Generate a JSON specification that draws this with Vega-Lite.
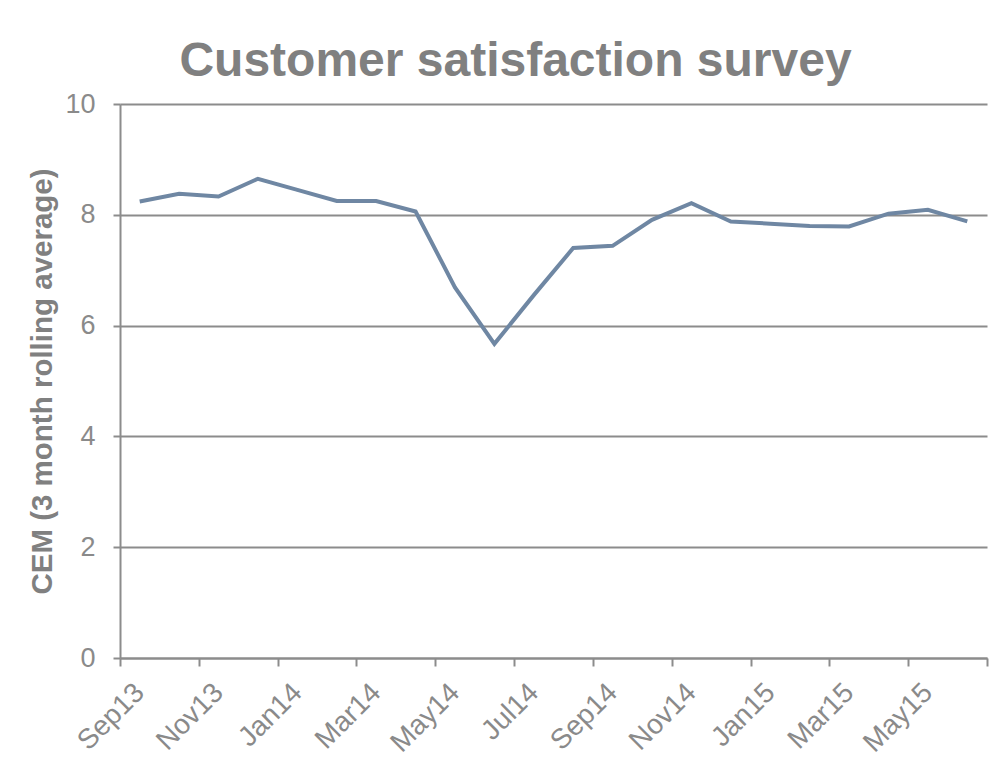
{
  "$schema": "https://vega.github.io/schema/vega-lite/v6.json",
  "width": 867,
  "height": 554,
  "autosize": {"type": "none"},
  "padding": {"left": 120, "top": 104, "right": 16, "bottom": 111},
  "background": "white",
  "config": {
    "view": {"stroke": null},
    "font": "Liberation Sans"
  },
  "title": {
    "text": "Customer satisfaction survey",
    "font": "Liberation Sans",
    "fontSize": 48,
    "fontWeight": "bold",
    "color": "#808080",
    "frame": "group",
    "anchor": "middle",
    "dx": -38,
    "dy": 45,
    "baseline": "alphabetic",
    "offset": 11
  },
  "data": {
    "values": [
      {"month": "Sep13", "cem": 8.24},
      {"month": "Oct13", "cem": 8.38},
      {"month": "Nov13", "cem": 8.33},
      {"month": "Dec13", "cem": 8.65},
      {"month": "Jan14", "cem": 8.45},
      {"month": "Feb14", "cem": 8.25},
      {"month": "Mar14", "cem": 8.25},
      {"month": "Apr14", "cem": 8.06},
      {"month": "May14", "cem": 6.69},
      {"month": "Jun14", "cem": 5.67},
      {"month": "Jul14", "cem": 6.55},
      {"month": "Aug14", "cem": 7.40},
      {"month": "Sep14", "cem": 7.44},
      {"month": "Oct14", "cem": 7.91},
      {"month": "Nov14", "cem": 8.21},
      {"month": "Dec14", "cem": 7.88},
      {"month": "Jan15", "cem": 7.84},
      {"month": "Feb15", "cem": 7.80},
      {"month": "Mar15", "cem": 7.79},
      {"month": "Apr15", "cem": 8.02},
      {"month": "May15", "cem": 8.09},
      {"month": "Jun15", "cem": 7.88}
    ]
  },
  "mark": {"type": "line", "color": "#6f87a3", "strokeWidth": 4},
  "encoding": {
    "x": {
      "field": "month",
      "type": "ordinal",
      "sort": null,
      "bandPosition": 0.5,
      "scale": {"type": "band", "paddingInner": 0, "paddingOuter": 0},
      "axis": {
        "title": null,
        "labelAngle": -45,
        "labelAlign": "right",
        "labelBaseline": "middle",
        "labelFontSize": 28,
        "labelColor": "#8a8a8a",
        "labelFont": "Liberation Sans",
        "labelOverlap": false,
        "labelExpr": "round(datum.index * 21) % 2 == 0 ? datum.label : ''",
        "labelPadding": 22,
        "tickBand": "extent",
        "tickSize": 8,
        "tickWidth": 2,
        "tickColor": "#8c8c8c",
        "tickOpacity": {"condition": {"test": "datum.index < 0 || round(datum.index * 21) % 2 == 1", "value": 1}, "value": 0},
        "domainColor": "#8c8c8c",
        "domainWidth": 2,
        "grid": false
      }
    },
    "y": {
      "field": "cem",
      "type": "quantitative",
      "scale": {"domain": [0, 10], "nice": false, "zero": true},
      "axis": {
        "values": [0, 2, 4, 6, 8, 10],
        "title": "CEM (3 month rolling average)",
        "titleFont": "Liberation Sans",
        "titleFontSize": 29.5,
        "titleFontWeight": "bold",
        "titleColor": "#808080",
        "titlePadding": 7,
        "labelFontSize": 27,
        "labelColor": "#8a8a8a",
        "labelFont": "Liberation Sans",
        "labelPadding": 18,
        "tickSize": 7,
        "tickWidth": 2,
        "tickColor": "#8c8c8c",
        "domainColor": "#8c8c8c",
        "domainWidth": 2,
        "grid": true,
        "gridColor": "#8c8c8c",
        "gridWidth": 2,
        "gridOpacity": 1
      }
    }
  }
}
